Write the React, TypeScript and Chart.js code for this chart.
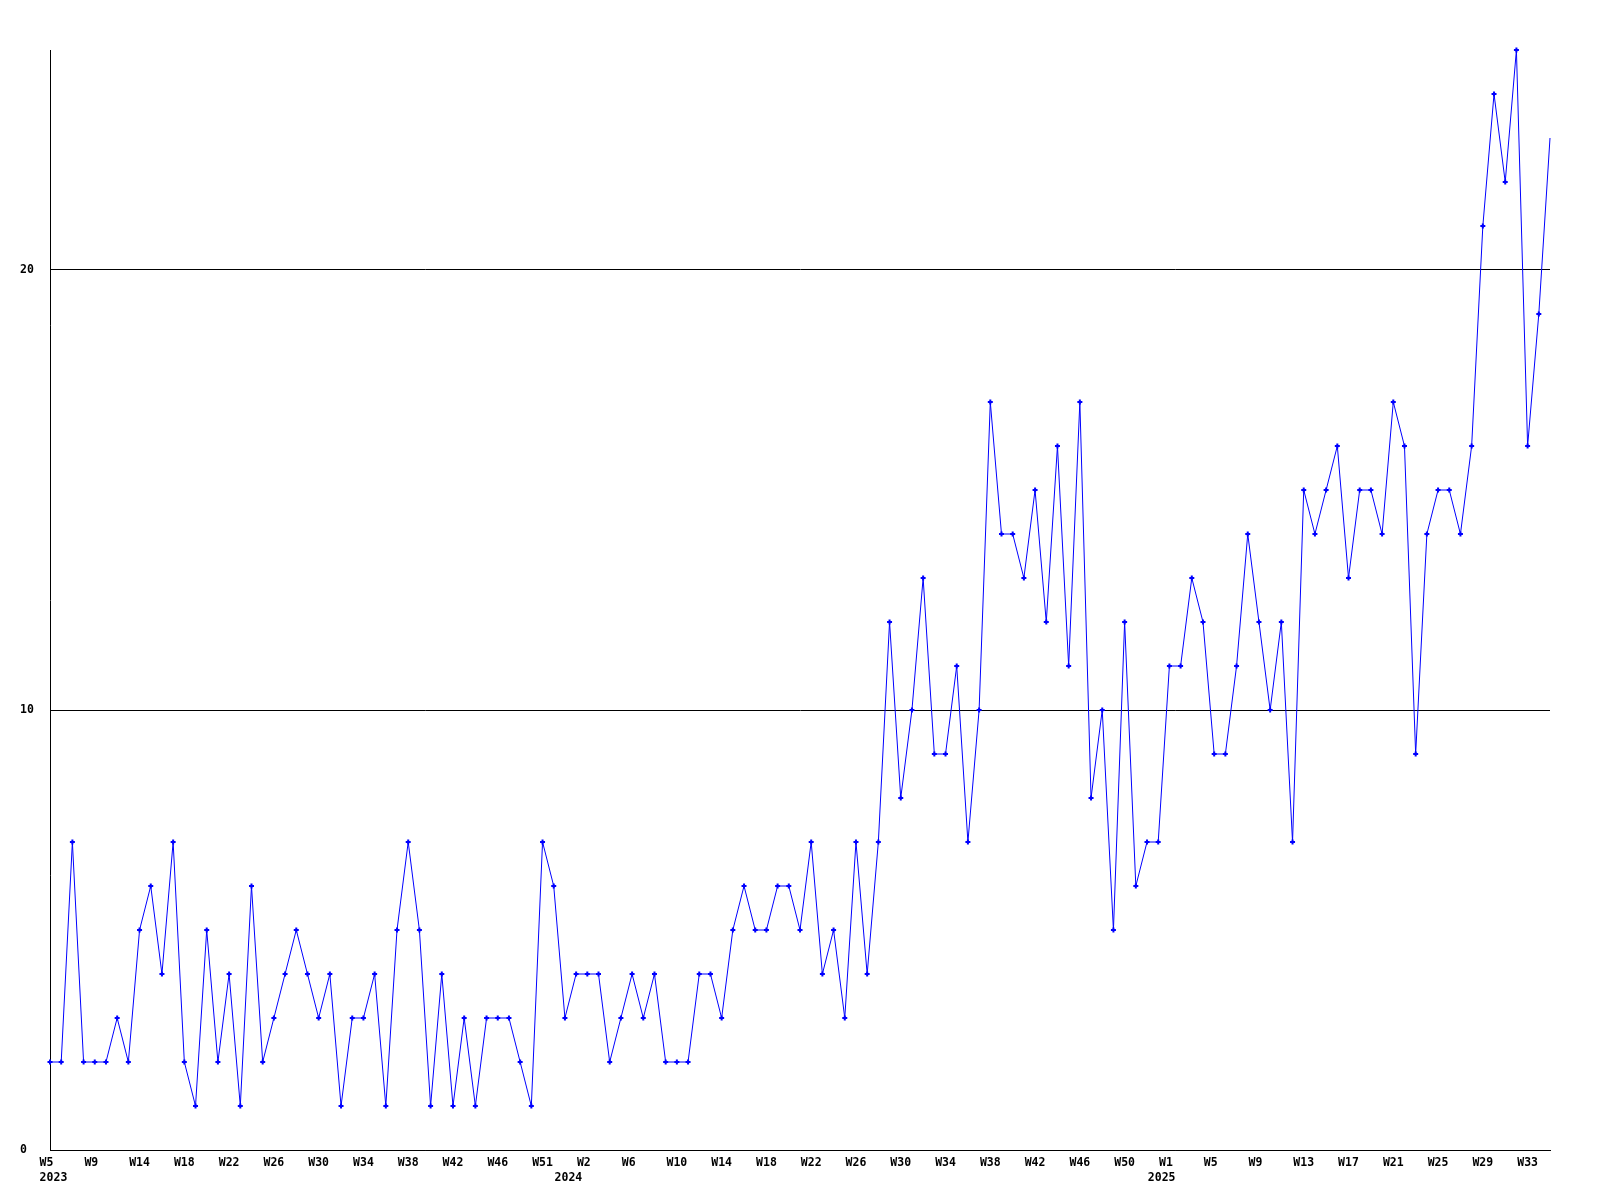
import React, { useEffect, useRef } from "react";
import { Chart, registerables } from "chart.js";

Chart.register(...registerables);

// Weekly counts, one per point (2023 W5 .. 2025 W34)
const values: number[] = [
  2, 2, 7, 2, 2, 2, 3, 2, 5, 6, 4, 7, 2, 1, 5, 2, 4, 1, 6, 2,
  3, 4, 5, 4, 3, 4, 1, 3, 3, 4, 1, 5, 7, 5, 1, 4, 1, 3, 1, 3,
  3, 3, 2, 1, 7, 6, 3, 4, 4, 4, 2, 3, 4, 3, 4, 2, 2, 2, 4, 4,
  3, 5, 6, 5, 5, 6, 6, 5, 7, 4, 5, 3, 7, 4, 7, 12, 8, 10, 13, 9,
  9, 11, 7, 10, 17, 14, 14, 13, 15, 12, 16, 11, 17, 8, 10, 5, 12, 6, 7, 7,
  11, 11, 13, 12, 9, 9, 11, 14, 12, 10, 12, 7, 15, 14, 15, 16, 13, 15, 15, 14,
  17, 16, 9, 14, 15, 15, 14, 16, 21, 24, 22, 25, 16, 19, 23,
];

// Category per point
const categories: string[] = values.map((_, i) => String(i));

// Week tick labels, shown on every 4th point
const weekTickLabels: string[] = [
  "W5", "W9", "W14", "W18", "W22", "W26", "W30", "W34", "W38", "W42", "W46", "W51",
  "W2", "W6", "W10", "W14", "W18", "W22", "W26", "W30", "W34", "W38", "W42", "W46", "W50",
  "W1", "W5", "W9", "W13", "W17", "W21", "W25", "W29", "W33",
];
const weekTickStep = 4;

// Year labels (second row) and the point index they sit under
const yearTickIndex: number[] = [0, 46, 99];
const yearTickLabels: string[] = ["2023", "2024", "2025"];

const yTickValues: number[] = [0, 10, 20];
const yMax = 25;

const FONT = { family: "'DejaVu Sans Mono', monospace", size: 11.5, weight: "bold" as const, lineHeight: 1.35 };

function xLabel(index: number): string | string[] {
  let week = "";
  if (index % weekTickStep === 0) {
    const w = weekTickLabels[index / weekTickStep];
    if (w) week = w.padEnd(3, " ");
  }
  const yi = yearTickIndex.indexOf(index);
  if (yi >= 0) return [week, " " + yearTickLabels[yi]];
  return week;
}

export default function App() {
  const canvasRef = useRef<HTMLCanvasElement | null>(null);

  useEffect(() => {
    document.body.style.margin = "0";
    const canvas = canvasRef.current;
    if (!canvas) return;
    const lastIndex = values.length - 1;
    const chart = new Chart(canvas, {
      type: "line",
      data: {
        labels: categories,
        datasets: [
          {
            data: values,
            borderColor: "#0000ff",
            backgroundColor: "#0000ff",
            borderWidth: 1,
            tension: 0,
            pointStyle: "cross",
            pointRadius: (ctx: any) => (ctx.dataIndex === lastIndex ? 0 : 2.5),
            pointBorderWidth: 2,
            pointBorderColor: "#0000ff",
            pointHoverRadius: 2.5,
            clip: false,
          },
        ],
      },
      options: {
        animation: false,
        responsive: false,
        devicePixelRatio: 1,
        layout: { padding: { left: 20, top: 50, right: 50, bottom: 0 } },
        plugins: {
          legend: { display: false },
          tooltip: { enabled: false },
          title: { display: false },
        },
        scales: {
          x: {
            type: "category",
            offset: false,
            grid: { display: false, drawTicks: false },
            border: { display: true, color: "#000000", width: 1 },
            ticks: {
              autoSkip: false,
              maxRotation: 0,
              minRotation: 0,
              padding: 5,
              color: "#000000",
              font: FONT,
              callback: (_v: any, index: number) => xLabel(index),
            },
            afterFit: (scale: any) => {
              scale.height = 50;
            },
          },
          y: {
            min: 0,
            max: yMax,
            grid: { color: "#000000", lineWidth: 1, drawTicks: false },
            border: { display: true, color: "#000000", width: 1 },
            ticks: {
              stepSize: 10,
              crossAlign: "far",
              padding: 0,
              color: "#000000",
              font: FONT,
            },
            afterBuildTicks: (scale: any) => {
              scale.ticks = yTickValues.map((v) => ({ value: v }));
            },
            afterFit: (scale: any) => {
              scale.width = 30;
            },
          },
        },
      },
    });
    return () => chart.destroy();
  }, []);

  return (
    <div style={{ width: 1600, height: 1200, background: "#ffffff" }}>
      <canvas ref={canvasRef} width={1600} height={1200} style={{ width: 1600, height: 1200, display: "block" }} />
    </div>
  );
}
